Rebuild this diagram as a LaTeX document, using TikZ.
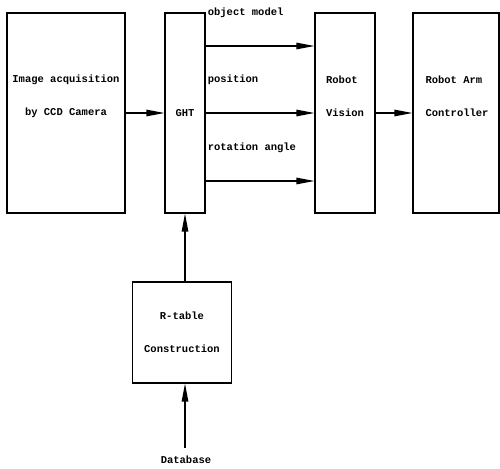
\documentclass[tikz,border=0pt]{standalone}
\usepackage{fontspec}
\setmonofont{Liberation Mono}
\usetikzlibrary{arrows.meta}
\begin{document}
\begin{tikzpicture}[x=1pt,y=1pt,
  blockbox/.style={draw, line width=1.2pt, inner sep=0pt},
  txt/.style={font=\ttfamily\bfseries\fontsize{10.5}{33}\selectfont, inner sep=0pt},
  flow/.style={-{Triangle[length=18pt,width=6.5pt]}, line width=1.2pt}]
\useasboundingbox (0,0) rectangle (500,468);
\node[blockbox, minimum width=118, minimum height=200] (img) at (66,355) {};
\node[blockbox, minimum width=40, minimum height=200] (ght) at (185,355) {};
\node[blockbox, minimum width=60, minimum height=200] (rv) at (345,355) {};
\node[blockbox, minimum width=86, minimum height=200] (arm) at (456,355) {};
\node[blockbox, minimum width=99, minimum height=101] (rtab) at (182,135.5) {};

\node[txt, align=center] (imgtxt) at (66,371.5) {Image acquisition\\by CCD Camera};
\node[txt] (ghttxt) at (ght) {GHT};
\node[txt, align=left] (rvtxt) at (345,371.5) {Robot\\Vision};
\node[txt, align=left] (armtxt) at (457,371.5) {Robot Arm\\Controller};
\node[txt, align=center] (rtabtxt) at (rtab) {R-table\\Construction};
\node[txt] (db) at (186,8) {Database};

\node[txt, anchor=west] (om) at ([xshift=2pt,yshift=100pt]ght.east) {object model};
\node[txt, anchor=west] (pos) at ([xshift=2pt,yshift=33pt]ght.east) {position};
\node[txt, anchor=west] (rot) at ([xshift=2pt,yshift=-35pt]ght.east) {rotation angle};

\draw[flow] (img) -- (ght);
\draw[flow] ([yshift=67pt]ght.east) -- ([yshift=67pt]rv.west);
\draw[flow] (ght) -- (rv);
\draw[flow] ([yshift=-68pt]ght.east) -- ([yshift=-68pt]rv.west);
\draw[flow] (rv) -- (arm);
\draw[flow] (ght.south |- rtab.north) -- (ght.south);
\draw[flow] (ght.south |- db.north) ++(0,8) -- (ght.south |- rtab.south);
\end{tikzpicture}
\end{document}
